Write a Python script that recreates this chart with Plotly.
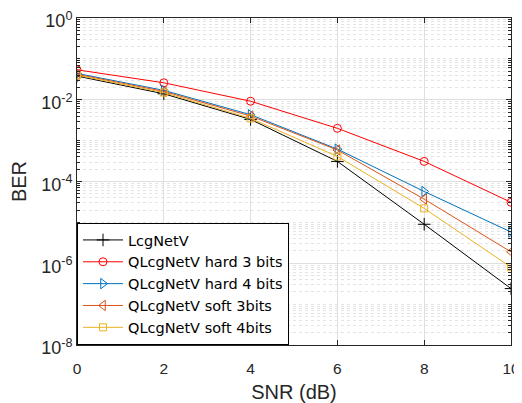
import plotly.graph_objects as go

snr = [0, 2, 4, 6, 8, 10]
lcgnetv = [3.8e-2, 1.4e-2, 3.3e-3, 3.1e-4, 9.0e-6, 2.4e-7]
hard3 = [5.4e-2, 2.6e-2, 9.2e-3, 2.0e-3, 3.1e-4, 3.1e-5]
hard4 = [4.4e-2, 1.7e-2, 4.3e-3, 6.2e-4, 5.7e-5, 5.8e-6]
soft3 = [4.2e-2, 1.6e-2, 4.0e-3, 5.9e-4, 3.7e-5, 1.9e-6]
soft4 = [4.0e-2, 1.5e-2, 3.5e-3, 4.1e-4, 2.2e-5, 8.0e-7]

names = ["LcgNetV", "QLcgNetV hard 3 bits", "QLcgNetV hard 4 bits",
         "QLcgNetV soft 3bits", "QLcgNetV soft 4bits"]
series = [lcgnetv, hard3, hard4, soft3, soft4]
colors = ["#000000", "#FF0000", "#0072BD", "#D95319", "#EDB120"]
symbols = ["cross-thin", "circle-open", "triangle-right-open",
           "triangle-left-open", "square-open"]
sizes = [9, 8, 9, 9, 7]

ytick_vals = [1e0, 1e-2, 1e-4, 1e-6, 1e-8]
ytick_text = ["10<sup>0</sup>", "10<sup>-2</sup>", "10<sup>-4</sup>",
              "10<sup>-6</sup>", "10<sup>-8</sup>"]
minor_vals = [k * 10.0 ** d for d in range(-8, 0) for k in range(1, 10)
              if not (k == 1 and d % 2 == 0)]

fig = go.Figure()
for n, s, c, sym, sz in zip(names, series, colors, symbols, sizes):
    fig.add_trace(go.Scatter(
        x=snr, y=s, name=n, mode="lines+markers",
        line=dict(color=c, width=1),
        marker=dict(symbol=sym, size=sz, color=c, line=dict(color=c, width=1)),
    ))

axis_col = "#262626"
fig.update_layout(
    width=514, height=395,
    margin=dict(l=69, r=11, t=10, b=58),
    plot_bgcolor="white", paper_bgcolor="white",
    font=dict(family="Liberation Sans, Arial, sans-serif", size=15, color=axis_col),
    showlegend=True,
    legend=dict(x=0.0, y=0.0, xanchor="left", yanchor="bottom",
                bgcolor="white", bordercolor="#000000", borderwidth=1,
                font=dict(family="DejaVu Sans, sans-serif", size=14.5, color="#000000"),
                tracegroupgap=0, itemwidth=40),
    xaxis=dict(range=[0, 10], tickvals=[0, 2, 4, 6, 8, 10], automargin=False,
               showgrid=True, gridcolor="#DFDFDF", gridwidth=1,
               showline=True, linecolor=axis_col, linewidth=1, mirror="ticks",
               ticks="inside", ticklen=5, tickcolor=axis_col,
               tickfont=dict(size=15.5), ticklabelstandoff=9,
               ticklabeloverflow="allow",
               title=dict(text="SNR (dB)", font=dict(size=20), standoff=10),
               zeroline=False),
    yaxis=dict(type="log", range=[-8, 0], tickvals=ytick_vals, ticktext=ytick_text,
               automargin=False,
               showgrid=True, gridcolor="#DFDFDF", gridwidth=1,
               showline=True, linecolor=axis_col, linewidth=1, mirror="ticks",
               ticks="inside", ticklen=5, tickcolor=axis_col,
               tickfont=dict(size=18), ticklabeloverflow="allow",
               ticklabelshift=3,
               minor=dict(tickvals=minor_vals, showgrid=True, gridcolor="#E4E4E4",
                          griddash="dot", gridwidth=1, ticks="inside", ticklen=3,
                          tickcolor=axis_col),
               title=dict(text="BER", font=dict(size=20), standoff=10),
               zeroline=False),
)

fig.write_html("out.html")
